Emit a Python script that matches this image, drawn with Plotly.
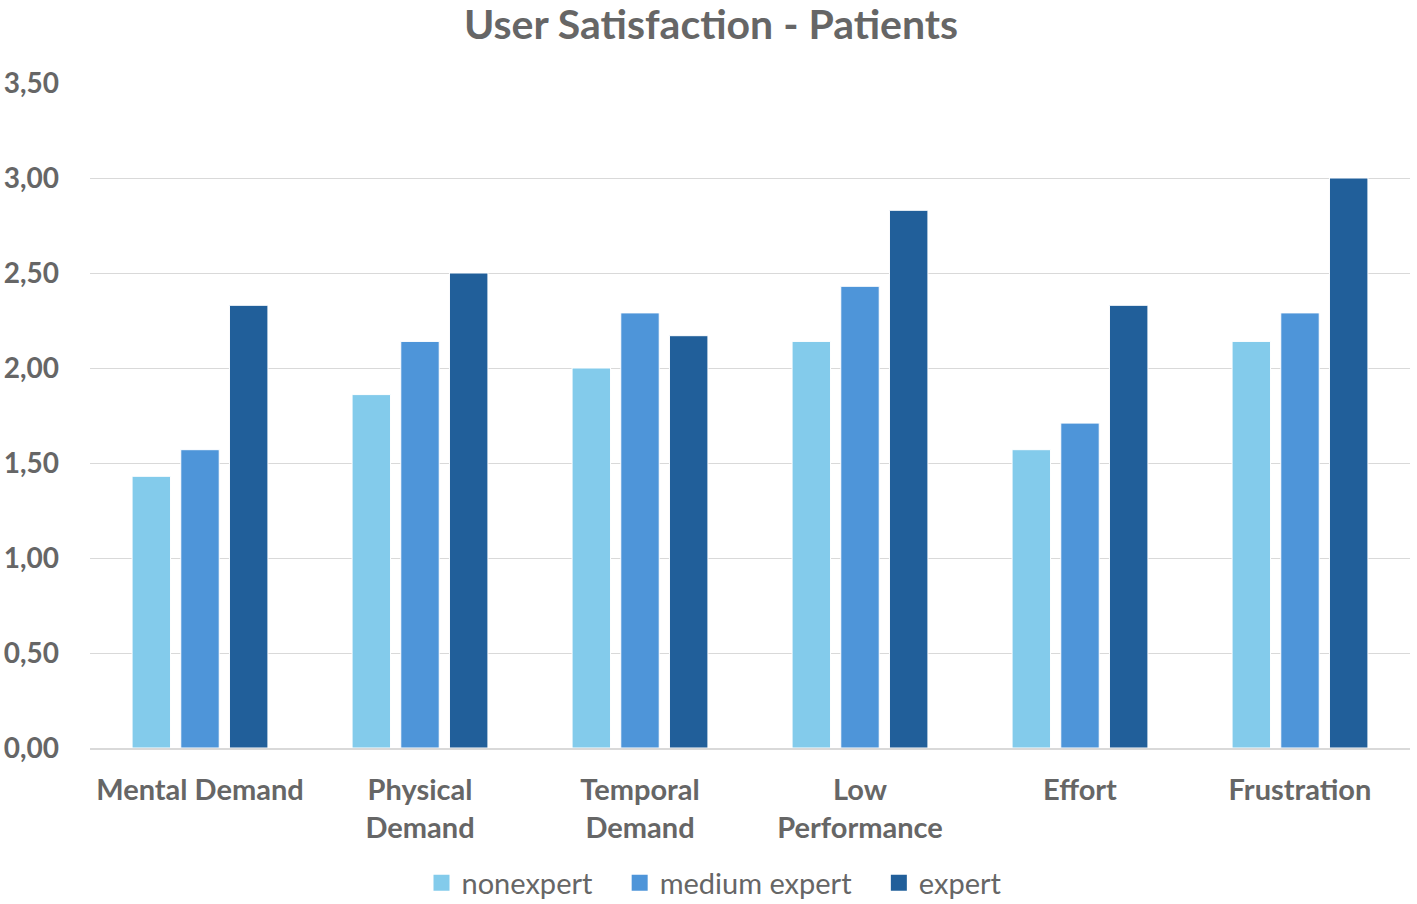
import plotly.graph_objects as go

categories = ["Mental Demand", "Physical<br>Demand", "Temporal<br>Demand", "Low<br>Performance", "Effort", "Frustration"]
nonexpert = [1.43, 1.86, 2.00, 2.14, 1.57, 2.14]
medium_expert = [1.57, 2.14, 2.29, 2.43, 1.71, 2.29]
expert = [2.33, 2.50, 2.17, 2.83, 2.33, 3.00]
series_names = ["nonexpert", "medium expert", "expert"]
colors = ["#83CBEB", "#4E95D9", "#215F9A"]
ytick_vals = [0, 0.5, 1.0, 1.5, 2.0, 2.5, 3.0, 3.5]

fig = go.Figure()
for name, vals, col in zip(series_names, [nonexpert, medium_expert, expert], colors):
    fig.add_trace(go.Bar(x=categories, y=vals, name=name, legendgroup=name, showlegend=False,
                         marker=dict(color=col, line=dict(color="white", width=1))))
for name, col in zip(series_names, colors):
    fig.add_trace(go.Scatter(x=[None], y=[None], mode="markers", name=name + "\u00a0\u00a0\u00a0", legendgroup=name,
                             marker=dict(symbol="square", size=18, color=col)))

W, H = 1417, 904
grey = "#666666"
fig.update_layout(
    width=W, height=H,
    paper_bgcolor="white", plot_bgcolor="white",
    separators=",.",
    barmode="group", bargap=0.336, bargroupgap=0.21,
    margin=dict(l=90, r=7, t=83, b=156),
    title=dict(text="<b>User Satisfaction - Patients</b>", x=711 / W, xanchor="center",
               y=1 - 25 / H, yanchor="middle",
               font=dict(family="Lato", size=41, color=grey)),
    font=dict(family="Lato", color=grey),
    yaxis=dict(range=[0, 3.5], tickvals=ytick_vals, tickformat=".2f", showgrid=True, gridcolor="#D9D9D9", gridwidth=1,
               zeroline=False, showline=False, ticks="", ticklabelstandoff=30, automargin=False,
               tickfont=dict(family="Lato", size=28, color=grey, weight="bold")),
    xaxis=dict(showline=True, linecolor="#D9D9D9", linewidth=2, ticks="", ticklabelstandoff=15, automargin=False,
               tickfont=dict(family="Lato", size=29, color=grey, weight="bold")),
    legend=dict(orientation="h", xref="container", yref="container", x=725 / W, xanchor="center",
                y=(H - 883) / H, yanchor="middle",
                font=dict(family="Lato", size=29, color=grey), itemwidth=30, traceorder="normal"),
)
fig.write_html("out.html", config={"displayModeBar": False}, post_script="document.body.style.margin='0';")
